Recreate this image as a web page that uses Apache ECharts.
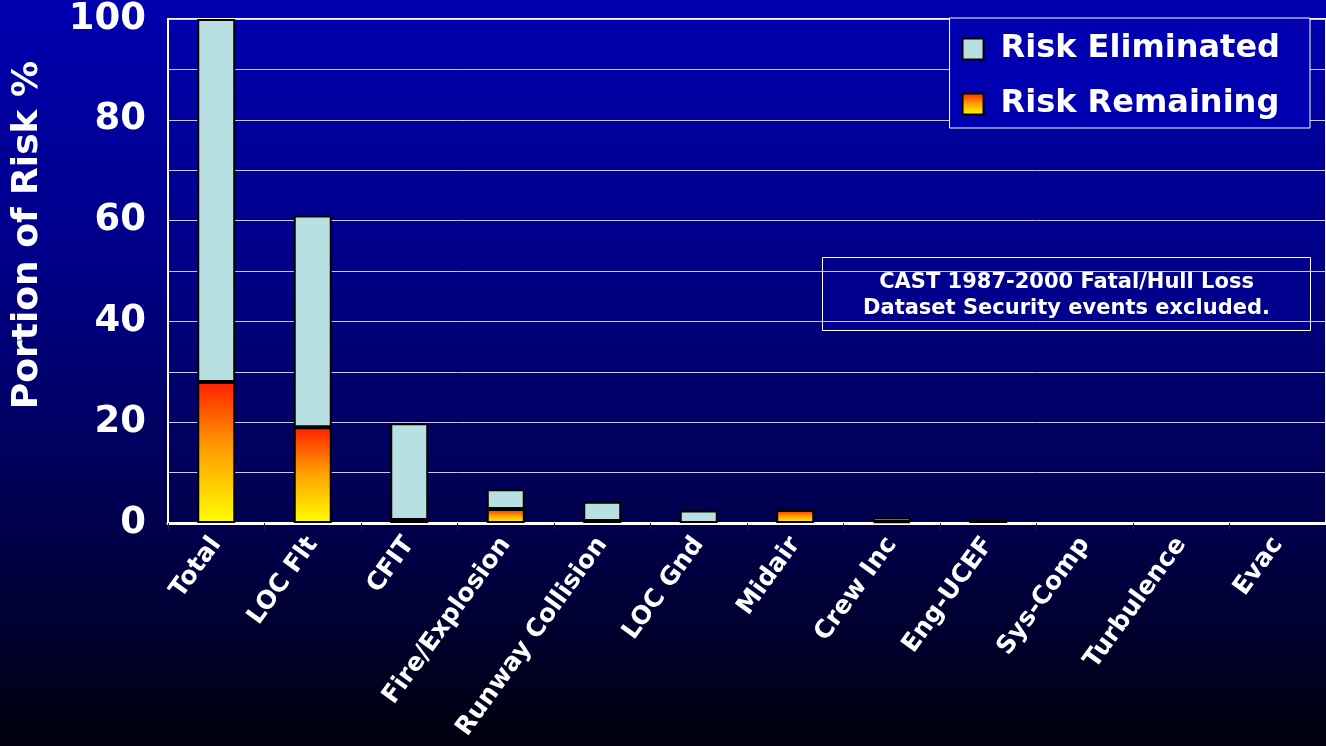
<!DOCTYPE html>
<html>
<head>
<meta charset="utf-8">
<script src="https://cdn.jsdelivr.net/npm/echarts@6/dist/echarts.min.js"></script>
<style>html,body{margin:0;padding:0;background:#000}#c{width:1326px;height:746px}</style>
</head>
<body>
<div id="c"></div>
<script>
const categories = ['Total','LOC Flt','CFIT','Fire/Explosion','Runway Collision','LOC Gnd','Midair','Crew Inc','Eng-UCEF','Sys-Comp','Turbulence','Evac'];
const riskRemaining = [28, 19, 0.6, 2.8, 0.4, 0, 2.6, 0.3, 0, 0, 0, 0];
const riskEliminated = [72, 42, 19.2, 3.9, 3.8, 2.5, 0, 0.9, 0.7, 0, 0, 0];
const yTicks = [0, 20, 40, 60, 80, 100];
const noteLines = ['CAST 1987-2000 Fatal/Hull Loss', 'Dataset Security events excluded.'];

const FONT = '"DejaVu Sans", sans-serif';
const shadowText = { textShadowColor: '#000', textShadowOffsetX: 3, textShadowOffsetY: 3, textShadowBlur: 0 };
const asBars = arr => arr.map(v => (v === 0 ? '-' : v));

const chart = echarts.init(document.getElementById('c'), null, { renderer: 'canvas' });
chart.setOption({
  animation: false,
  backgroundColor: {
    type: 'linear', x: 0, y: 0, x2: 0, y2: 1,
    colorStops: [
      { offset: 0, color: '#0000b0' },
      { offset: 0.35, color: '#000088' },
      { offset: 0.7, color: '#00004e' },
      { offset: 1, color: '#00000e' }
    ]
  },
  grid: { left: 168, top: 19, right: 0, bottom: 223, show: true, borderColor: '#ffffff', borderWidth: 2, backgroundColor: 'transparent' },
  legend: {
    orient: 'vertical', right: 16, top: 18,
    padding: [13, 30, 6, 12],
    backgroundColor: '#0000b0', borderColor: '#ffffff', borderWidth: 1,
    icon: 'rect',
    itemWidth: 21, itemHeight: 21, itemGap: 19,
    textStyle: Object.assign({ color: '#fff', fontFamily: FONT, fontWeight: 'bold', fontSize: 32, lineHeight: 36, padding: [0, 0, 0, 12] }, shadowText),
    data: ['Risk Eliminated', 'Risk Remaining']
  },
  xAxis: {
    type: 'category', data: categories,
    axisLine: { lineStyle: { color: '#ffffff', width: 3 } },
    axisTick: { show: true, alignWithLabel: false, length: 7, lineStyle: { color: '#222', width: 1 } },
    axisLabel: Object.assign({ interval: 0, rotate: 54, color: '#fff', fontFamily: FONT, fontWeight: 'bold', fontSize: 25, margin: 17 }, shadowText)
  },
  yAxis: {
    type: 'value', min: 0, max: 100, interval: 10,
    name: 'Portion of Risk %', nameLocation: 'middle', nameGap: 122,
    nameTextStyle: Object.assign({ color: '#fff', fontFamily: FONT, fontWeight: 'bold', fontSize: 36, padding: [0, 0, 0, 72] }, shadowText),
    axisLine: { show: true, lineStyle: { color: '#ffffff', width: 2 } },
    axisTick: { show: false },
    splitLine: { show: true, lineStyle: { color: '#c8c8f0', width: 1 } },
    axisLabel: Object.assign({
      color: '#fff', fontFamily: FONT, fontWeight: 'bold', fontSize: 37, margin: 22,
      formatter: v => (yTicks.indexOf(v) >= 0 ? String(v) : '')
    }, shadowText)
  },
  series: [
    {
      name: 'Risk Remaining', type: 'bar', stack: 'risk', z: 3, barWidth: 38,
      data: asBars(riskRemaining),
      itemStyle: {
        color: new echarts.graphic.LinearGradient(0, 0, 0, 1, [
          { offset: 0, color: '#ff2000' },
          { offset: 0.45, color: '#ff9a00' },
          { offset: 1, color: '#ffff00' }
        ]),
        borderColor: '#000', borderWidth: 2
      }
    },
    {
      name: 'Risk Eliminated', type: 'bar', stack: 'risk', z: 2, barWidth: 38,
      data: asBars(riskEliminated),
      itemStyle: { color: '#b8dfe2', borderColor: '#000', borderWidth: 2 }
    }
  ],
  graphic: [
    {
      type: 'group', left: 822, top: 257,
      children: [
        { type: 'rect', shape: { x: 0, y: 0, width: 488, height: 73 }, style: { fill: '#00008c', stroke: '#ffffff', lineWidth: 1 } },
        { type: 'text', x: 244, y: 25, style: { text: noteLines[0], fill: '#fff', font: 'bold 21px "DejaVu Sans", sans-serif', textAlign: 'center', textVerticalAlign: 'middle' } },
        { type: 'text', x: 244, y: 51, style: { text: noteLines[1], fill: '#fff', font: 'bold 21px "DejaVu Sans", sans-serif', textAlign: 'center', textVerticalAlign: 'middle' } }
      ]
    }
  ]
});
</script>
</body>
</html>
